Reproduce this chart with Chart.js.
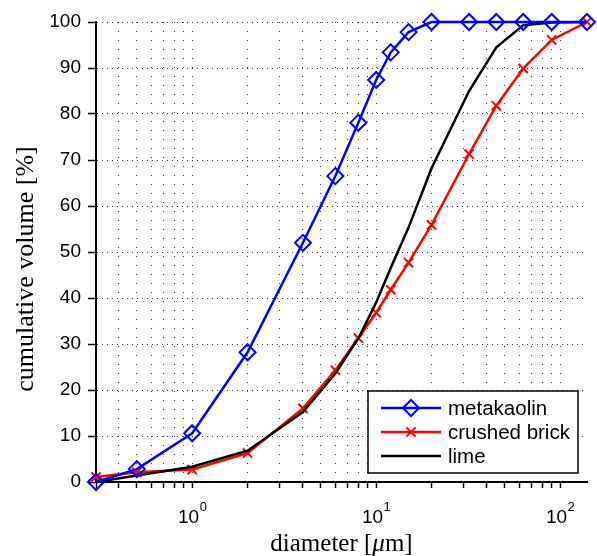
<!DOCTYPE html>
<html>
<head>
<meta charset="utf-8">
<script src="https://cdn.jsdelivr.net/npm/chart.js@4.4.0/dist/chart.umd.min.js"></script>
<style>
html, body { margin: 0; padding: 0; background: #fff; }
</style>
</head>
<body>
<canvas id="psd-chart" width="597" height="556"></canvas>
<script>
// particle size distribution, cumulative volume [%] vs diameter [um]
var diameters = [0.3, 0.5, 1, 2, 4, 6, 8, 10, 12, 15, 20, 32, 45, 63, 90, 140];
var metakaolin = [0, 2.8, 10.6, 28.2, 52, 66.5, 78.1, 87.4, 93.4, 97.8, 100, 100, 100, 100, 100, 100];
var crushedBrick = [1.1, 2.1, 2.7, 6.3, 16, 24.3, 31.3, 36.8, 41.8, 47.7, 55.9, 71.3, 81.8, 89.9, 96.1, 100];
var lime = [0, 1.4, 3.3, 6.8, 15.2, 23.6, 31.2, 39, 46.5, 55.3, 68.2, 85, 94.5, 99.3, 99.9, 100];
var seriesNames = ['metakaolin', 'crushed brick', 'lime'];
var seriesColors = ['#0000ff', '#ff0000', '#000000'];
var xDecades = [1, 10, 100];
var xTitle = ['diameter [', '\u03bc', 'm]'];
var yTitle = 'cumulative volume [%]';

var sansFont = '"Liberation Sans", Arial, Helvetica, sans-serif';
var serifFont = '"Liberation Serif", "Times New Roman", serif';

function points(values) {
    var out = [];
    for (var i = 0; i < diameters.length; i++) {
        out.push({x: diameters[i], y: values[i]});
    }
    return out;
}

function diamond(ctx, cx, cy, r) {
    ctx.beginPath();
    ctx.moveTo(cx, cy - r);
    ctx.lineTo(cx + r, cy);
    ctx.lineTo(cx, cy + r);
    ctx.lineTo(cx - r, cy);
    ctx.closePath();
    ctx.stroke();
}

function cross(ctx, cx, cy, r) {
    var d = r * Math.SQRT1_2;
    ctx.beginPath();
    ctx.moveTo(cx - d, cy - d);
    ctx.lineTo(cx + d, cy + d);
    ctx.moveTo(cx + d, cy - d);
    ctx.lineTo(cx - d, cy + d);
    ctx.stroke();
}

// axis labels with superscripts, titles and the boxed legend
var extras = {
    id: 'extras',
    afterDraw: function(chart) {
        var ctx = chart.ctx;
        var xs = chart.scales.x;
        var area = chart.chartArea;
        ctx.save();
        ctx.fillStyle = '#000';
        ctx.textBaseline = 'alphabetic';
        ctx.textAlign = 'left';

        xDecades.forEach(function(v) {
            var px = xs.getPixelForValue(v);
            var exp = String(Math.round(Math.log10(v)));
            ctx.font = '19px ' + sansFont;
            var w1 = ctx.measureText('10').width;
            ctx.font = '13px ' + sansFont;
            var w2 = ctx.measureText(exp).width;
            var left = px - (w1 + w2) / 2;
            ctx.font = '19px ' + sansFont;
            ctx.fillText('10', left, 523);
            ctx.font = '13px ' + sansFont;
            ctx.fillText(exp, left + w1 + 0.5, 511);
        });

        // x title
        var fonts = ['25px ' + serifFont, 'italic 25px ' + serifFont, '25px ' + serifFont];
        var widths = xTitle.map(function(t, i) { ctx.font = fonts[i]; return ctx.measureText(t).width; });
        var total = widths.reduce(function(a, b) { return a + b; }, 0);
        var tx = (area.left + area.right) / 2 - total / 2;
        xTitle.forEach(function(t, i) {
            ctx.font = fonts[i];
            ctx.fillText(t, tx, 551);
            tx += widths[i];
        });

        // y title
        ctx.save();
        ctx.translate(33, 269);
        ctx.rotate(-Math.PI / 2);
        ctx.textAlign = 'center';
        ctx.font = '26px ' + serifFont;
        ctx.fillText(yTitle, 0, 0);
        ctx.restore();

        // legend
        var bx = area.right - 219, by = area.bottom - 91, bw = 210, bh = 82;
        ctx.fillStyle = '#fff';
        ctx.fillRect(bx, by, bw, bh);
        ctx.strokeStyle = '#000';
        ctx.lineWidth = 1.5;
        ctx.strokeRect(bx, by, bw, bh);
        ctx.font = '20.5px ' + sansFont;
        ctx.textBaseline = 'middle';
        ctx.textAlign = 'left';
        seriesNames.forEach(function(name, i) {
            var ry = by + 17 + i * 24;
            ctx.strokeStyle = seriesColors[i];
            ctx.lineWidth = 2.5;
            ctx.beginPath();
            ctx.moveTo(bx + 13, ry);
            ctx.lineTo(bx + 73, ry);
            ctx.stroke();
            ctx.lineWidth = 2;
            if (i === 0) diamond(ctx, bx + 43, ry, 8);
            if (i === 1) cross(ctx, bx + 43, ry, 6.5);
            ctx.fillStyle = '#000';
            ctx.fillText(name, bx + 80, ry + 1);
        });
        ctx.restore();
    }
};

var config = {
    type: 'line',
    data: {
        datasets: [{
            label: seriesNames[0],
            data: points(metakaolin),
            borderColor: seriesColors[0],
            borderWidth: 2.5,
            pointStyle: 'rectRot',
            pointRadius: 8,
            pointBorderWidth: 2,
            pointBorderColor: seriesColors[0],
            pointBackgroundColor: 'rgba(0,0,0,0)',
            order: 0,
            clip: false
        }, {
            label: seriesNames[1],
            data: points(crushedBrick),
            borderColor: seriesColors[1],
            borderWidth: 2.5,
            pointStyle: 'crossRot',
            pointRadius: 6.5,
            pointBorderWidth: 2,
            pointBorderColor: seriesColors[1],
            order: 2,
            clip: false
        }, {
            label: seriesNames[2],
            data: points(lime),
            borderColor: seriesColors[2],
            borderWidth: 2.5,
            pointRadius: 0,
            order: 1,
            clip: false
        }]
    },
    options: {
        responsive: false,
        animation: false,
        layout: { padding: { top: 22, right: 8, left: 0, bottom: 0 } },
        plugins: { legend: { display: false }, tooltip: { enabled: false } },
        elements: { line: { tension: 0 } },
        scales: {
            x: {
                type: 'logarithmic',
                min: 0.3,
                max: 140,
                afterBuildTicks: function(scale) {
                    var ticks = [];
                    for (var e = -1; e <= 2; e++) {
                        for (var m = 1; m <= 9; m++) {
                            var v = m * Math.pow(10, e);
                            if (v >= 0.3 - 1e-9 && v <= 140) ticks.push({value: v});
                        }
                    }
                    scale.ticks = ticks;
                },
                afterFit: function(scale) { scale.height = 74; },
                ticks: {
                    autoSkip: false,
                    maxRotation: 0,
                    callback: function() { return ''; }
                },
                grid: {
                    color: '#444',
                    lineWidth: 1,
                    tickColor: '#000',
                    tickWidth: 1.5,
                    tickLength: 6
                },
                border: { display: true, color: '#000', width: 2, dash: [1, 8] }
            },
            y: {
                min: 0,
                max: 100,
                afterFit: function(scale) { scale.width = 96; },
                ticks: {
                    stepSize: 5,
                    padding: 7,
                    color: '#000',
                    font: { family: sansFont, size: 19 },
                    callback: function(v) { return v % 10 === 0 ? v : ''; }
                },
                grid: {
                    color: function(c) { return c.tick && c.tick.value % 10 === 0 ? '#444' : 'rgba(0,0,0,0)'; },
                    lineWidth: 1,
                    tickColor: '#000',
                    tickWidth: 1.5,
                    tickLength: 8
                },
                border: { display: true, color: '#000', width: 2, dash: [1, 4] }
            }
        }
    },
    plugins: [extras]
};

var ctx = document.getElementById('psd-chart').getContext('2d');
window.psdChart = new Chart(ctx, config);
</script>
</body>
</html>
